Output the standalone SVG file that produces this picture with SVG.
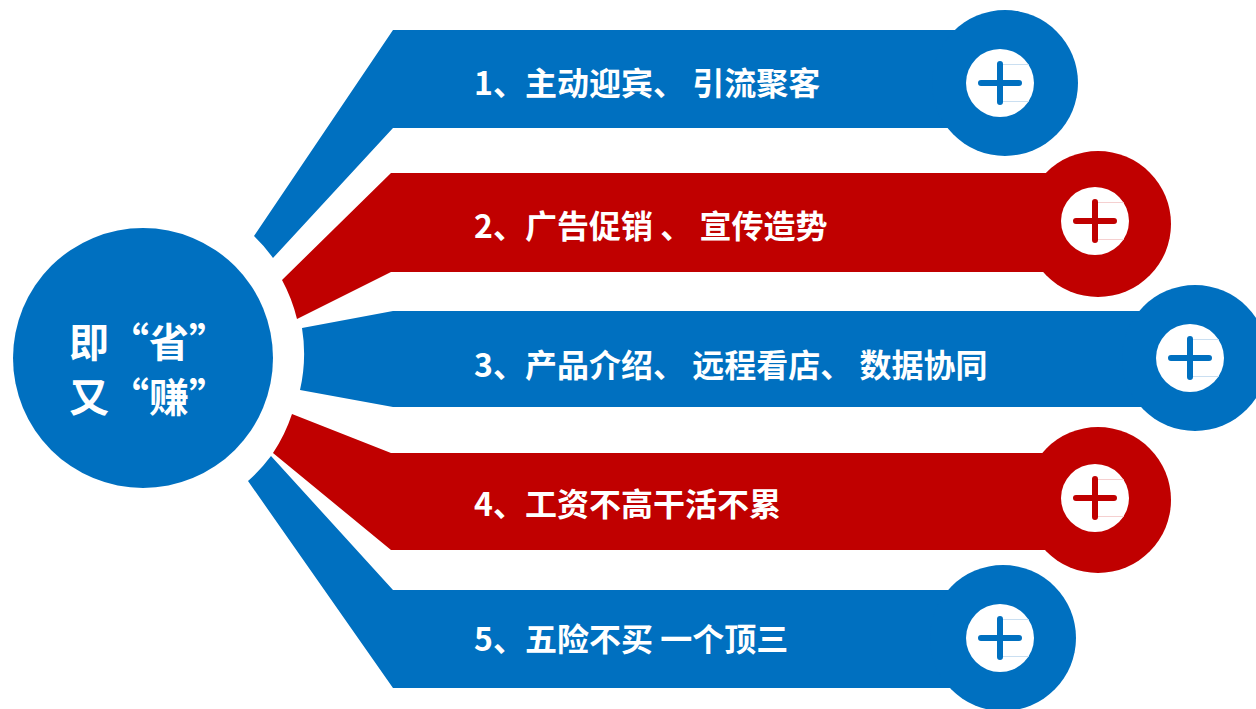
<svg xmlns="http://www.w3.org/2000/svg" width="1256" height="709" viewBox="0 0 1256 709">
<style>
.blue{fill:#0070C0}
.red{fill:#C00000}
.hole{fill:#FFFFFF}
.plusb{stroke:#0070C0;stroke-width:6;stroke-linecap:round;fill:none}
.plusr{stroke:#C00000;stroke-width:6;stroke-linecap:round;fill:none}
.fb{stroke:#BDD7EE;stroke-width:1;fill:none;opacity:0.8}
.fr{stroke:#F2C4C4;stroke-width:1;fill:none;opacity:0.8}
.lbl{fill:#FFFFFF;font-family:"Noto Sans CJK SC","Liberation Sans",sans-serif;font-weight:bold;font-size:32px;dominant-baseline:central}
.ctr{fill:#FFFFFF;font-family:"Noto Sans CJK SC","Liberation Sans",sans-serif;font-weight:bold;font-size:40px;dominant-baseline:central}
</style>
<g id="connectors">
<path class="blue" d="M393 30 L1005 30 L1005 128 L393 128 L273 258 A161 161 0 0 0 254 236 Z"/>
<path class="red" d="M391 173 L1098 173 L1098 272 L391 272 L297 319 A161 161 0 0 0 282 280 Z"/>
<path class="blue" d="M393 311 L1195 311 L1195 407 L393 407 L300 390 A161 161 0 0 0 302 328 Z"/>
<path class="red" d="M391 453 L1098 453 L1098 550 L391 550 L273 453 A161 161 0 0 0 292 414 Z"/>
<path class="blue" d="M393 590 L1003 590 L1003 688 L393 688 L248 481 A161 161 0 0 0 271 456 Z"/>
</g>
<g id="center">
<circle class="blue" cx="143" cy="358" r="130"/>
<text class="ctr" x="69" y="340">即“省”</text>
<text class="ctr" x="69" y="395">又“赚”</text>
</g>
<g id="item1">
<circle class="blue" cx="1005" cy="83" r="73"/>
<circle class="hole" cx="1000" cy="83" r="34"/>
<path class="fb" d="M1000 64.5 H1029 M1000 101.5 H1029"/>
<path class="plusb" d="M981 83 H1019 M1000 64 V102"/>
<text class="lbl" x="474" y="81">1、主动迎宾、 引流聚客</text>
</g>
<g id="item2">
<circle class="red" cx="1098" cy="224" r="73"/>
<circle class="hole" cx="1095" cy="221" r="34"/>
<path class="fr" d="M1095 202.5 H1124 M1095 239.5 H1124"/>
<path class="plusr" d="M1076 221 H1114 M1095 202 V240"/>
<text class="lbl" x="474" y="224">2、广告促销 、 宣传造势</text>
</g>
<g id="item3">
<circle class="blue" cx="1195" cy="358" r="73"/>
<circle class="hole" cx="1190" cy="358" r="34"/>
<path class="fb" d="M1190 339.5 H1219 M1190 376.5 H1219"/>
<path class="plusb" d="M1171 358 H1209 M1190 339 V377"/>
<text class="lbl" x="474" y="363">3、产品介绍、 远程看店、 数据协同</text>
</g>
<g id="item4">
<circle class="red" cx="1098" cy="500" r="73"/>
<circle class="hole" cx="1095" cy="498" r="34"/>
<path class="fr" d="M1095 479.5 H1124 M1095 516.5 H1124"/>
<path class="plusr" d="M1076 498 H1114 M1095 479 V517"/>
<text class="lbl" x="474" y="502">4、工资不高干活不累</text>
</g>
<g id="item5">
<circle class="blue" cx="1003" cy="638" r="73"/>
<circle class="hole" cx="1000" cy="638" r="34"/>
<path class="fb" d="M1000 619.5 H1029 M1000 656.5 H1029"/>
<path class="plusb" d="M981 638 H1019 M1000 619 V657"/>
<text class="lbl" x="474" y="637">5、五险不买 一个顶三</text>
</g>
</svg>
